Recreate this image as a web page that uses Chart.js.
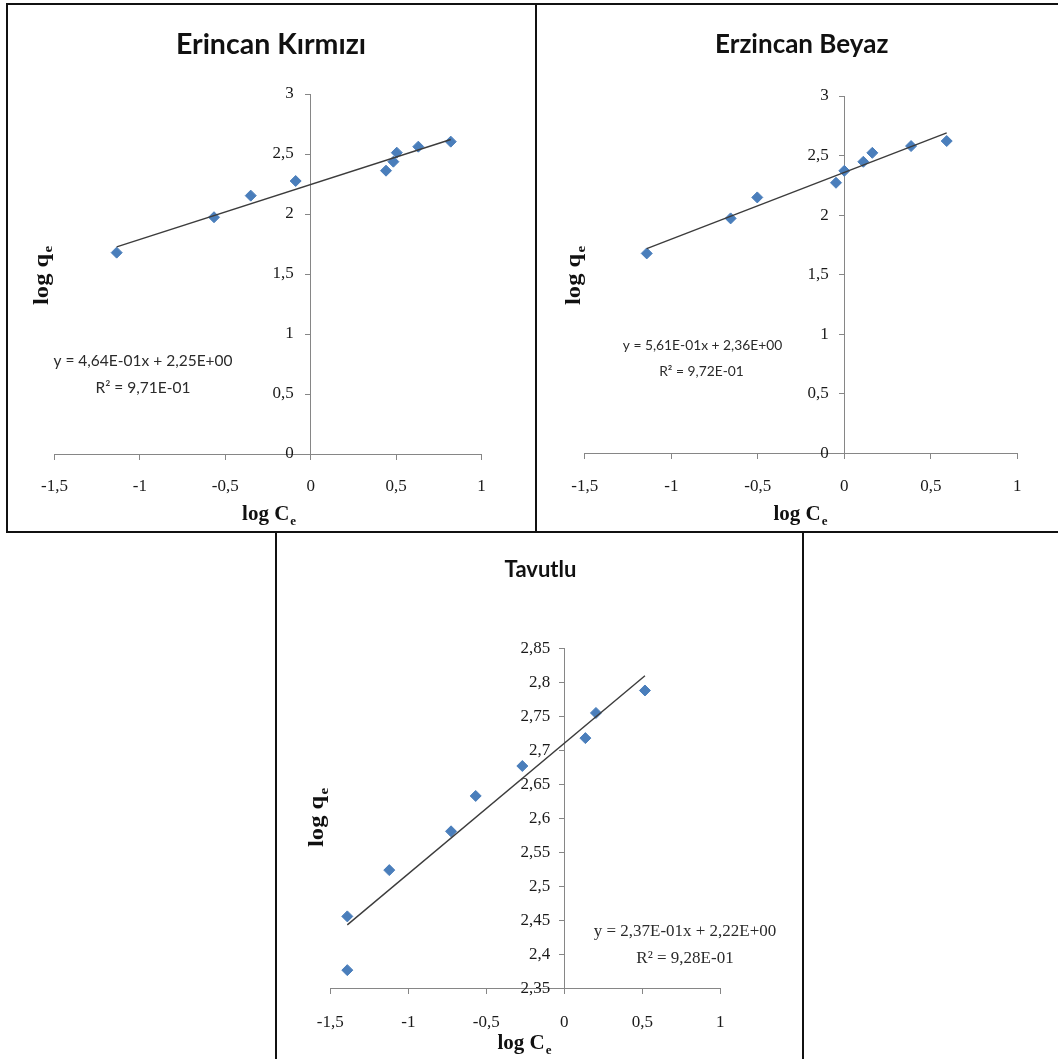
<!DOCTYPE html>
<html>
<head>
<meta charset="utf-8">
<script src="https://cdn.jsdelivr.net/npm/chart.js@4.4.1/dist/chart.umd.min.js"></script>
<style>
  html, body { margin: 0; padding: 0; background: #fff; }
  body { width: 1058px; height: 1059px; position: relative; overflow: hidden; }
  .panel { position: absolute; border: 2px solid #111; box-sizing: border-box; background: #fff; }
  .panel canvas { display: block; }
</style>
</head>
<body>
<div class="panel" style="left:6px;top:3px;width:531px;height:530px"><canvas id="c1" width="527" height="526"></canvas></div>
<div class="panel" style="left:535px;top:3px;width:530px;height:530px"><canvas id="c2" width="526" height="526"></canvas></div>
<div class="panel" style="left:275px;top:531px;width:529px;height:530px"><canvas id="c3" width="525" height="526"></canvas></div>
<script>
// values (log Ce, log qe)
const kirmiziX = [-1.136, -0.566, -0.351, -0.088, 0.441, 0.484, 0.504, 0.630, 0.820];
const kirmiziY = [1.678, 1.973, 2.153, 2.275, 2.361, 2.436, 2.511, 2.561, 2.603];

const beyazX = [-1.142, -0.657, -0.503, -0.048, 0.000, 0.110, 0.162, 0.386, 0.592];
const beyazY = [1.679, 1.973, 2.149, 2.272, 2.372, 2.448, 2.523, 2.580, 2.622];

const tavutluX = [-1.391, -1.391, -1.122, -0.726, -0.568, -0.269, 0.135, 0.203, 0.517];
const tavutluY = [2.377, 2.456, 2.524, 2.581, 2.633, 2.677, 2.718, 2.755, 2.788];

const titles = ["Erincan Kırmızı", "Erzincan Beyaz", "Tavutlu"];
const equations = [
  ["y = 4,64E-01x + 2,25E+00", "R² = 9,71E-01"],
  ["y = 5,61E-01x + 2,36E+00", "R² = 9,72E-01"],
  ["y = 2,37E-01x + 2,22E+00", "R² = 9,28E-01"]
];

const xTicks = [-1.5, -1, -0.5, 0, 0.5, 1];
const yTicksTop = [0, 0.5, 1, 1.5, 2, 2.5, 3];
const yTicksTavutlu = [2.35, 2.4, 2.45, 2.5, 2.55, 2.6, 2.65, 2.7, 2.75, 2.8, 2.85];

const markerColor = "#4A7EBB";
const axisColor = "#868686";
const SERIF = "'Liberation Serif', 'Times New Roman', serif";
const SANS = "Lato, 'Open Sans', sans-serif";

const fmt = v => String(+v.toFixed(2)).replace(".", ",");

// linear trendline over the data range, like the spreadsheet one
function trendPoints(xs, ys) {
  const n = xs.length;
  const mx = xs.reduce((a, b) => a + b, 0) / n;
  const my = ys.reduce((a, b) => a + b, 0) / n;
  let sxy = 0, sxx = 0;
  xs.forEach((x, i) => { sxy += (x - mx) * (ys[i] - my); sxx += (x - mx) * (x - mx); });
  const slope = sxy / sxx;
  const icpt = my - slope * mx;
  const lo = Math.min(...xs), hi = Math.max(...xs);
  return [{ x: lo, y: slope * lo + icpt }, { x: hi, y: slope * hi + icpt }];
}

// titles, axis titles with subscripts, equation text
const notesPlugin = {
  id: "notes",
  afterDraw(chart, args, opts) {
    const ctx = chart.ctx;
    (opts.items || []).forEach(it => {
      ctx.save();
      ctx.translate(it.x, it.y);
      if (it.rotate) ctx.rotate(it.rotate);
      if (it.stretch) ctx.scale(it.stretch, 1);
      ctx.textBaseline = "middle";
      ctx.textAlign = "left";
      ctx.fillStyle = it.color || "#111";
      const mainFont = `${it.weight || "normal"} ${it.size}px ${it.family}`;
      const subFont = `${it.weight || "normal"} ${Math.round(it.size * 0.62)}px ${it.family}`;
      ctx.font = mainFont;
      const w1 = ctx.measureText(it.text).width;
      let w2 = 0;
      if (it.sub) { ctx.font = subFont; w2 = ctx.measureText(it.sub).width; }
      const x0 = -(w1 + w2) / 2;
      ctx.font = mainFont;
      ctx.fillText(it.text, x0, 0);
      if (it.sub) {
        ctx.font = subFont;
        ctx.fillText(it.sub, x0 + w1 + 1, it.size * 0.3);
      }
      ctx.restore();
    });
  }
};

function makeChart(id, cfg) {
  return new Chart(document.getElementById(id), {
    type: "scatter",
    data: {
      datasets: [
        {
          type: "line",
          label: "trend",
          data: trendPoints(cfg.xs, cfg.ys),
          borderColor: "#3c3c3c",
          borderWidth: 1.4,
          pointRadius: 0,
          fill: false,
          order: 0
        },
        {
          label: "data",
          data: cfg.xs.map((x, i) => ({ x: x, y: cfg.ys[i] })),
          pointStyle: "rectRot",
          pointRadius: 5.5,
          backgroundColor: markerColor,
          borderColor: markerColor,
          borderWidth: 1,
          order: 1
        }
      ]
    },
    options: {
      responsive: false,
      animation: false,
      layout: { padding: cfg.pad },
      plugins: {
        legend: { display: false },
        tooltip: { enabled: false },
        title: { display: false },
        notes: { items: cfg.notes }
      },
      scales: {
        x: {
          type: "linear",
          position: { y: cfg.yTicks[0] },
          min: xTicks[0],
          max: xTicks[xTicks.length - 1],
          afterBuildTicks: s => { s.ticks = xTicks.map(v => ({ value: v })); },
          grid: { drawOnChartArea: false, drawTicks: true, tickLength: 5, color: axisColor },
          border: { color: axisColor, width: 1 },
          ticks: {
            color: "#1a1a1a",
            font: { family: SERIF, size: 17 },
            padding: cfg.xPad,
            maxRotation: 0,
            autoSkip: false,
            callback: v => fmt(v)
          }
        },
        y: {
          type: "linear",
          position: { x: 0 },
          min: cfg.yTicks[0],
          max: cfg.yTicks[cfg.yTicks.length - 1],
          afterBuildTicks: s => { s.ticks = cfg.yTicks.map(v => ({ value: v })); },
          grid: { drawOnChartArea: false, drawTicks: true, tickLength: 5, color: axisColor },
          border: { color: axisColor, width: 1 },
          ticks: {
            color: "#1a1a1a",
            font: { family: SERIF, size: 17 },
            autoSkip: false,
            // a value-positioned y axis ignores ticks.padding, so keep the gap with trailing spaces
            callback: v => fmt(v) + cfg.yGap
          }
        }
      }
    },
    plugins: [notesPlugin]
  });
}

function textItems(i, pos) {
  return [
    { text: titles[i], x: pos.title[0], y: pos.title[1], size: pos.titleSize, weight: "bold", family: SANS, color: "#111" },
    { text: "log q", sub: "e", x: pos.yTitle[0], y: pos.yTitle[1], rotate: -Math.PI / 2, stretch: 1.17, size: 21, weight: "bold", family: SERIF },
    { text: "log C", sub: "e", x: pos.xTitle[0], y: pos.xTitle[1], size: 21, weight: "bold", family: SERIF },
    { text: equations[i][0], x: pos.eq[0], y: pos.eq[1], size: pos.eqSize, family: pos.eqFamily, color: "#2b2b2b" },
    { text: equations[i][1], x: pos.r2[0], y: pos.r2[1], size: pos.eqSize, family: pos.eqFamily, color: "#2b2b2b" }
  ];
}

makeChart("c1", {
  xs: kirmiziX, ys: kirmiziY, yTicks: yTicksTop,
  pad: { left: 46.5, right: 53.5, top: 89, bottom: 77 },
  xPad: 17, yGap: "    ",
  notes: textItems(0, {
    title: [263, 40], titleSize: 28.5,
    yTitle: [34.5, 271], xTitle: [260.6, 510],
    eq: [135, 356], r2: [135, 383], eqSize: 15.5, eqFamily: SANS
  })
});

makeChart("c2", {
  xs: beyazX, ys: beyazY, yTicks: yTicksTop,
  pad: { left: 47.8, right: 45.7, top: 91, bottom: 77.5 },
  xPad: 18, yGap: "   \u2006",
  notes: textItems(1, {
    title: [264.7, 40], titleSize: 26,
    yTitle: [38, 271], xTitle: [263, 510],
    eq: [165.5, 341], r2: [164.5, 367], eqSize: 13.8, eqFamily: SANS
  })
});

makeChart("c3", {
  xs: tavutluX, ys: tavutluY, yTicks: yTicksTavutlu,
  pad: { left: 53.3, right: 81.7, top: 115.3, bottom: 70.5 },
  xPad: 19, yGap: "   \u200A",
  notes: textItems(2, {
    title: [263.5, 37], titleSize: 22,
    yTitle: [41, 285], xTitle: [247, 511],
    eq: [408, 398.5], r2: [408, 425.5], eqSize: 17, eqFamily: SERIF
  })
});
</script>
</body>
</html>
